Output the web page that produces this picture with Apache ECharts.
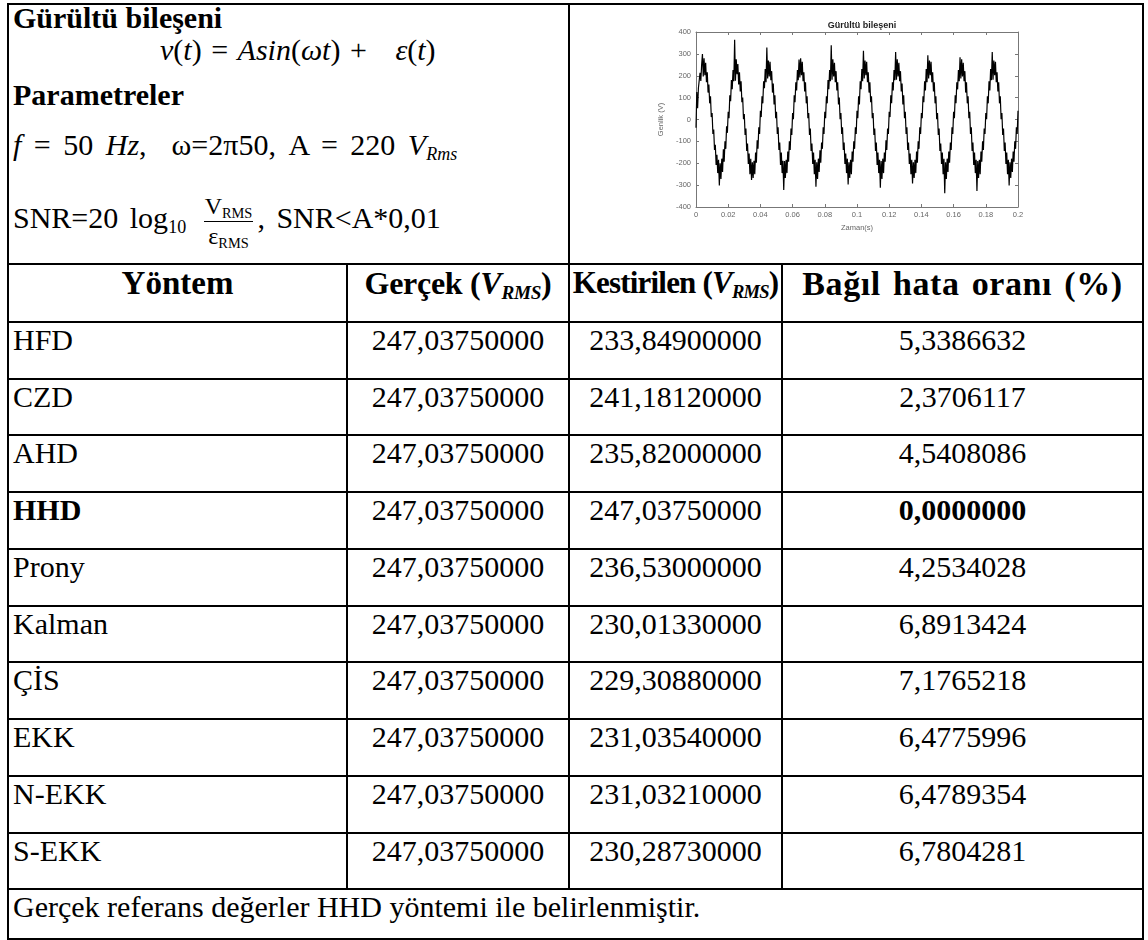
<!DOCTYPE html>
<html>
<head>
<meta charset="utf-8">
<script src="https://cdn.jsdelivr.net/npm/echarts@6/dist/echarts.min.js"></script>
<style>
  html,body{margin:0;padding:0;background:#fff;}
  #page{position:relative;width:1148px;height:940px;overflow:hidden;font-family:"Liberation Serif","Times New Roman",serif;color:#000;}
  .ln{position:absolute;background:#000;}
  .tx{position:absolute;line-height:1;white-space:nowrap;}
  .m{font-style:italic;}
  sub{font-size:0.6em;vertical-align:-0.28em;line-height:0;}
  .frac{display:inline-block;vertical-align:middle;text-align:center;font-size:0.8em;line-height:1.12;margin:0 4px 0 6px;}
  .frac .num{display:block;border-bottom:1.5px solid #000;padding:0 1px 1px;}
  .frac .den{display:block;padding-top:1px;}
  #chart{position:absolute;left:570px;top:6px;width:572px;height:257px;}
</style>
</head>
<body>
<div id="page"><div id="chart"></div></div>
<script>
// ---------- table data ----------
const yontemler = ['HFD','CZD','AHD','HHD','Prony','Kalman','ÇİS','EKK','N-EKK','S-EKK'];
const gercekDegerler = [247.0375,247.0375,247.0375,247.0375,247.0375,247.0375,247.0375,247.0375,247.0375,247.0375];
const kestirilenDegerler = [233.849,241.1812,235.82,247.0375,236.53,230.0133,229.3088,231.0354,231.0321,230.2873];
const hataOranlari = [5.3386632,2.3706117,4.5408086,0.0000000,4.2534028,6.8913424,7.1765218,6.4775996,6.4789354,6.7804281];
const vurguluYontem = 'HHD';

// ---------- embedded chart data ----------
const ornekAraligi = 0.0005; // s, sampling period of the waveform
const genlikV = [
-38,126,51,144,150,213,176,250,299,197,280,202,259,170,216,123,160,74,106,11,30,-66,-46,-139,-115,-208,-161,-245,-184,-302,-200,-272,-179,-240,-136,-193,-100,-134,-31,-61,
35,6,111,84,180,138,226,175,364,177,275,207,254,160,216,128,175,79,101,1,25,-71,-41,-144,-110,-203,-156,-250,-179,-277,-195,-267,-189,-250,-151,-198,-95,-134,-36,-66,
40,11,106,74,175,143,231,170,329,187,270,197,264,180,221,123,165,69,111,6,35,-66,-36,-139,-105,-208,-151,-245,-189,-322,-190,-267,-184,-245,-146,-193,-100,-139,-41,-71,
30,1,111,79,170,133,226,180,274,192,280,202,264,175,216,128,170,74,106,6,30,-71,-41,-144,-110,-203,-151,-250,-184,-307,-195,-272,-179,-240,-141,-198,-105,-134,-36,-66,
35,6,106,74,180,138,226,175,339,182,275,197,259,170,221,133,170,69,101,1,30,-66,-36,-139,-105,-203,-156,-245,-179,-297,-195,-267,-184,-250,-146,-193,-100,-134,-36,-66,
40,6,106,69,175,138,231,175,314,187,270,202,264,170,216,123,170,79,106,6,30,-71,-41,-144,-105,-208,-151,-245,-184,-312,-190,-272,-179,-245,-151,-193,-95,-139,-41,-66,
35,11,111,74,170,133,226,180,309,182,275,197,259,175,221,128,165,69,111,6,35,-66,-36,-139,-105,-203,-156,-250,-184,-292,-195,-267,-184,-245,-146,-198,-100,-134,-36,-66,
30,6,106,79,175,133,231,170,294,187,270,202,264,170,216,128,170,74,106,1,30,-71,-41,-144,-110,-203,-151,-250,-179,-337,-195,-272,-179,-240,-146,-198,-105,-139,-36,-66,
35,6,111,74,170,138,226,175,284,187,275,197,259,175,221,123,170,74,106,6,35,-66,-36,-144,-105,-208,-151,-245,-184,-327,-190,-267,-184,-250,-146,-193,-100,-139,-41,-66,
30,1,106,74,175,133,231,180,309,182,270,202,264,170,216,128,170,74,106,1,30,-71,-41,-144,-105,-203,-151,-250,-184,-302,-195,-267,-179,-240,-146,-193,-100,-134,-36,-66,
40
];
const zamanEtiketleri = ['0','0.02','0.04','0.06','0.08','0.1','0.12','0.14','0.16','0.18','0.2'];
const genlikEtiketleri = ['-400','-300','-200','-100','0','100','200','300','400'];
const grafikBasligi = 'Gürültü bileşeni';
const xEkseniAdi = 'Zaman(s)';
const yEkseniAdi = 'Genlik (V)';

// ---------- table layout ----------
const page = document.getElementById('page');
const colX = [8,347,569,782,1143];
const topY = 4, top1 = 264, headY = 322, rowH = [57,56,57,57,57,56,57,57,57,56], botY = 939;
const rowY = [headY]; rowH.forEach(h => rowY.push(rowY[rowY.length-1]+h));
const footY = rowY[rowY.length-1];
const LW = 2;

function hline(y,x0,x1){const d=document.createElement('div');d.className='ln';d.style.cssText=`left:${x0-1}px;top:${y-1}px;width:${x1-x0+2}px;height:${LW}px`;page.appendChild(d);}
function vline(x,y0,y1){const d=document.createElement('div');d.className='ln';d.style.cssText=`left:${x-1}px;top:${y0-1}px;width:${LW}px;height:${y1-y0+2}px`;page.appendChild(d);}
function text(html,x,y,w,align,style){const d=document.createElement('div');d.className='tx';d.innerHTML=html;
  d.style.cssText=`left:${x}px;top:${y}px;${w?`width:${w}px;`:''}text-align:${align||'left'};${style||''}`;page.appendChild(d);return d;}

hline(topY,colX[0],colX[4]); hline(top1,colX[0],colX[4]); rowY.forEach(y=>hline(y,colX[0],colX[4])); hline(botY,colX[0],colX[4]);
vline(colX[0],topY,botY); vline(colX[4],topY,botY); vline(colX[2],topY,footY);
vline(colX[1],top1,footY); vline(colX[3],top1,footY);

// top-left cell texts
text('Gürültü bileşeni',13,3,null,'left','font-size:30px;font-weight:bold;');
text('<span class="m">v</span>(<span class="m">t</span>) = <span class="m">A</span><span class="m">sin</span>(<span class="m">ωt</span>) +&nbsp;&nbsp; <span class="m">ε</span>(<span class="m">t</span>)',160,35,null,'left','font-size:30px;word-spacing:2px;');
text('Parametreler',13,80,null,'left','font-size:30px;font-weight:bold;');
text('<span class="m">f</span> = 50 <span class="m">Hz</span>,&nbsp; ω=2π50, A = 220 <span class="m">V<sub>Rms</sub></span>',13,130,null,'left','font-size:30px;word-spacing:5px;');
text('SNR=20 log<sub>10</sub> <span class="frac"><span class="num">V<sub>RMS</sub></span><span class="den">ε<sub>RMS</sub></span></span>, SNR&lt;A*0,01',13,193,null,'left','font-size:30px;word-spacing:4px;');

// header row
const headers = ['Yöntem','Gerçek (<span class="m">V<sub>RMS</sub></span>)','Kestirilen (<span class="m">V<sub>RMS</sub></span>)','Bağıl hata oranı (%)'];
const headerStyles = ['font-size:33px;','font-size:32px;letter-spacing:-0.3px;','font-size:31px;letter-spacing:-0.8px;','font-size:34px;letter-spacing:0.6px;word-spacing:3px;'];
headers.forEach((h,i)=>{
  text(h,colX[i]+2,top1+3,colX[i+1]-colX[i]-4,'center','font-weight:bold;'+headerStyles[i]);
});

// data rows
const fmt = (v,d)=>v.toFixed(d).replace('.',',');
const BF = 'font-size:30px;';
yontemler.forEach((m,r)=>{
  const y = rowY[r]+3;
  const b = m===vurguluYontem ? 'font-weight:bold;' : '';
  text(m,13,y,null,'left',BF+b);
  text(fmt(gercekDegerler[r],8),colX[1]+2,y,colX[2]-colX[1]-4,'center',BF);
  text(fmt(kestirilenDegerler[r],8),colX[2]+2,y,colX[3]-colX[2]-4,'center',BF);
  text(fmt(hataOranlari[r],7),colX[3]+2,y,colX[4]-colX[3]-4,'center',BF+b);
});
text('Gerçek referans değerler HHD yöntemi ile belirlenmiştir.',13,footY+3,null,'left',BF);

// ---------- chart ----------
const chart = echarts.init(document.getElementById('chart'), null, {renderer:'canvas'});
const seri = genlikV.map((v,i)=>[i*ornekAraligi, v]);
const axCol = '#777', lblCol = '#666', fnt = '"Liberation Sans", Arial, sans-serif';
const lbl = {color:lblCol,fontSize:7.5,fontFamily:fnt};
chart.setOption({
  animation:false,
  title:{text:grafikBasligi,left:287,top:10,textAlign:'center',textStyle:{fontSize:9,fontWeight:'bold',color:'#222',fontFamily:fnt}},
  grid:{left:126,right:124,top:26,bottom:56},
  xAxis:[
    {type:'value',min:0,max:0.2,interval:0.02,position:'bottom',
     axisLine:{show:true,onZero:false,lineStyle:{color:axCol,width:1}},
     axisTick:{show:true,inside:true,length:3,lineStyle:{color:axCol}},
     splitLine:{show:false},
     axisLabel:{...lbl,margin:4,formatter:v=>zamanEtiketleri[Math.round(v/0.02)]},
     name:xEkseniAdi,nameLocation:'middle',nameGap:15,nameTextStyle:{color:lblCol,fontSize:7.5,fontFamily:fnt}},
    {type:'value',min:0,max:0.2,interval:0.02,position:'top',
     axisLine:{show:true,onZero:false,lineStyle:{color:axCol,width:1}},
     axisTick:{show:true,inside:true,length:3,lineStyle:{color:axCol}},
     splitLine:{show:false},axisLabel:{show:false}}
  ],
  yAxis:[
    {type:'value',min:-400,max:400,interval:100,position:'left',
     axisLine:{show:true,onZero:false,lineStyle:{color:axCol,width:1}},
     axisTick:{show:true,inside:true,length:3,lineStyle:{color:axCol}},
     splitLine:{show:false},
     axisLabel:{...lbl,margin:5,formatter:v=>genlikEtiketleri[Math.round((v+400)/100)]},
     name:yEkseniAdi,nameLocation:'middle',nameGap:25,nameRotate:90,nameTextStyle:{color:lblCol,fontSize:7.5,fontFamily:fnt}},
    {type:'value',min:-400,max:400,interval:100,position:'right',
     axisLine:{show:true,onZero:false,lineStyle:{color:axCol,width:1}},
     axisTick:{show:true,inside:true,length:3,lineStyle:{color:axCol}},
     splitLine:{show:false},axisLabel:{show:false}}
  ],
  series:[{type:'line',data:seri,xAxisIndex:0,yAxisIndex:0,showSymbol:false,sampling:null,
    lineStyle:{color:'#000',width:1.2},itemStyle:{color:'#000'}}]
});
</script>
</body>
</html>
